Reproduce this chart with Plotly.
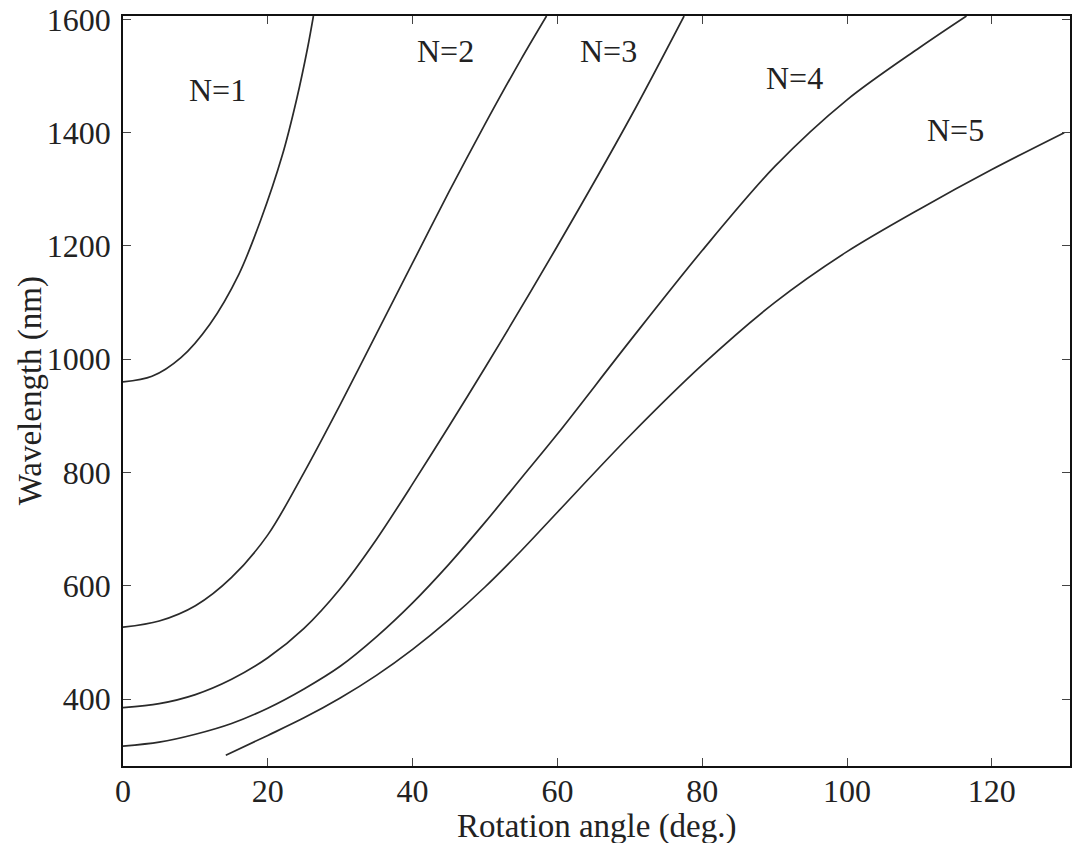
import plotly.graph_objects as go

# Rotation angle (deg.) and wavelength (nm) for each order N
angle_n1 = [0, 4, 8, 12, 16, 19, 22, 24, 25.5, 26.3]
wl_n1 = [960, 970, 1003, 1062, 1150, 1245, 1360, 1460, 1550, 1606]

angle_n2 = [0, 5, 10, 15, 20, 25, 30, 35, 40, 45, 50, 55, 58.5]
wl_n2 = [527, 538, 565, 615, 690, 800, 920, 1045, 1170, 1295, 1415, 1530, 1606]

angle_n3 = [0, 5, 10, 15, 20, 25, 30, 35, 40, 50, 60, 70, 77.5]
wl_n3 = [385, 392, 408, 435, 473, 525, 595, 682, 780, 985, 1200, 1425, 1606]

angle_n4 = [0, 5, 10, 15, 20, 25, 30, 35, 40, 45, 50, 55, 60, 70, 80, 90, 100, 110, 116.5]
wl_n4 = [317, 324, 338, 357, 384, 418, 458, 510, 570, 638, 712, 790, 868, 1032, 1192, 1340, 1458, 1550, 1606]

angle_n5 = [14.2, 20, 25, 30, 35, 40, 45, 50, 55, 60, 70, 80, 90, 100, 110, 120, 130]
wl_n5 = [301, 336, 367, 402, 442, 488, 540, 598, 662, 730, 865, 990, 1100, 1190, 1265, 1335, 1400]

series = [(angle_n1, wl_n1), (angle_n2, wl_n2), (angle_n3, wl_n3),
          (angle_n4, wl_n4), (angle_n5, wl_n5)]

label_text = ["N=1", "N=2", "N=3", "N=4", "N=5"]
label_x = [13.1, 44.5, 67.0, 92.8, 115.0]
label_y = [1475, 1545, 1545, 1496, 1404]

x_ticks = [0, 20, 40, 60, 80, 100, 120]
y_ticks = [400, 600, 800, 1000, 1200, 1400, 1600]

FONT = "Liberation Serif, Times New Roman, serif"
INK = "#222"

fig = go.Figure()
for ax, wl in series:
    fig.add_trace(go.Scatter(x=ax, y=wl, mode="lines",
                             line=dict(color="#2a2a2a", width=1.7, shape="spline", smoothing=0.9),
                             showlegend=False, hoverinfo="skip"))

for t, lx, ly in zip(label_text, label_x, label_y):
    fig.add_annotation(x=lx, y=ly, text=t, showarrow=False,
                       font=dict(family=FONT, size=32, color=INK))

# axis titles
fig.add_annotation(xref="paper", yref="paper", x=0.5, y=-0.081, text="Rotation angle (deg.)",
                   showarrow=False, xanchor="center", yanchor="middle",
                   font=dict(family=FONT, size=33, color=INK))
fig.add_annotation(xref="paper", yref="paper", x=-0.098, y=0.5, text="Wavelength (nm)",
                   showarrow=False, xanchor="center", yanchor="middle", textangle=-90,
                   font=dict(family=FONT, size=33, color=INK))

fig.update_layout(
    width=1072, height=843,
    margin=dict(l=123, r=2, t=16, b=77, autoexpand=False),
    paper_bgcolor="white", plot_bgcolor="white",
    font=dict(family=FONT, size=32, color=INK),
)
fig.update_xaxes(range=[0, 130.8], tickvals=x_ticks, ticks="inside", ticklen=8,
                 showline=True, linecolor="#111", linewidth=1.5, mirror="ticks",
                 showgrid=False, zeroline=False, automargin=False, ticklabelstandoff=-4,
                 tickfont=dict(family=FONT, size=32, color=INK))
fig.update_yaxes(range=[282, 1606], tickvals=y_ticks, ticks="inside", ticklen=8,
                 showline=True, linecolor="#111", linewidth=1.5, mirror="ticks",
                 showgrid=False, zeroline=False, automargin=False, ticklabelstandoff=4,
                 tickfont=dict(family=FONT, size=32, color=INK))

fig.write_html(
    "out.html",
    config={"displayModeBar": False},
    post_script="document.body.style.margin='0';document.body.style.overflow='hidden';",
)
